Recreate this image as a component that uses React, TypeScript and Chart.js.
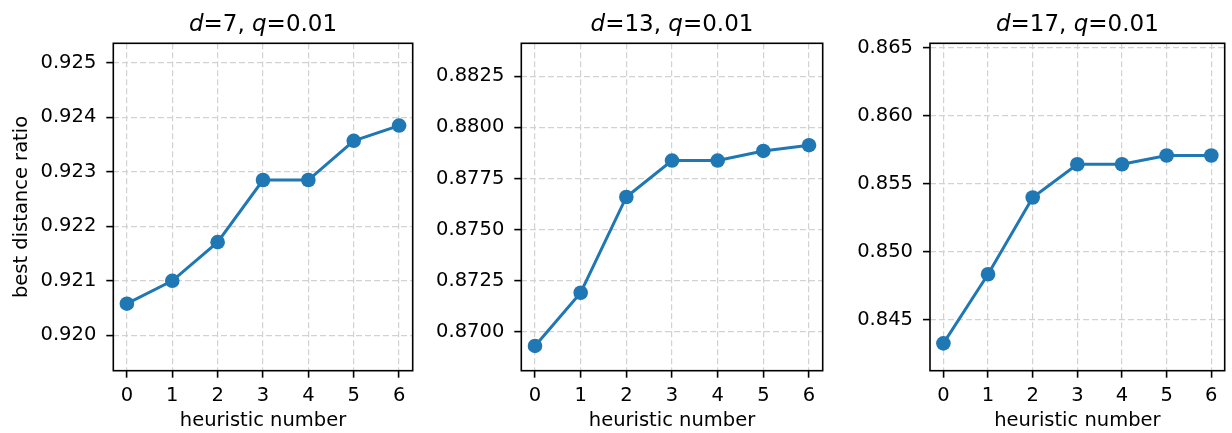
import React, { useEffect, useRef } from "react";
import { Chart, registerables } from "chart.js";

Chart.register(...registerables);

// ---------- data ----------
const heuristicNumbers = [0, 1, 2, 3, 4, 5, 6];
const dimensions = [7, 13, 17];
const qValue = "0.01";

const ratioD7 = [0.92058, 0.921, 0.92171, 0.92285, 0.92285, 0.92357, 0.92385];
const ratioD13 = [0.86932, 0.87192, 0.8766, 0.87838, 0.87838, 0.87885, 0.87913];
const ratioD17 = [0.84329, 0.84836, 0.854, 0.85644, 0.85644, 0.85708, 0.85708];

const yTicksD7 = [0.92, 0.921, 0.922, 0.923, 0.924, 0.925];
const yTicksD13 = [0.87, 0.8725, 0.875, 0.8775, 0.88, 0.8825];
const yTicksD17 = [0.845, 0.85, 0.855, 0.86, 0.865];

const yLabelsD7 = ["0.920", "0.921", "0.922", "0.923", "0.924", "0.925"];
const yLabelsD13 = ["0.8700", "0.8725", "0.8750", "0.8775", "0.8800", "0.8825"];
const yLabelsD17 = ["0.845", "0.850", "0.855", "0.860", "0.865"];

const yLimitsD7 = [0.91935, 0.92536];
const yLimitsD13 = [0.86811, 0.88411];
const yLimitsD17 = [0.84128, 0.86532];

const xTickLabels = ["0", "1", "2", "3", "4", "5", "6"];
const xLimits = [-0.3, 6.3];

const xAxisTitle = "heuristic number";
const yAxisTitle = "best distance ratio";

// ---------- styles ----------
const FONT = "'DejaVu Sans', sans-serif";
const BLUE = "#1f77b4";
const GRID = "#d2d2d2";
const TICK_SIZE = 19.5;

type Panel = {
  left: number;
  width: number;
  yWidth: number;
  padRight: number;
  d: number;
  values: number[];
  yTicks: number[];
  yLabels: string[];
  yLimits: number[];
  showYTitle: boolean;
};

const panels: Panel[] = [
  { left: 0, width: 420, yWidth: 113.3, padRight: 5, d: dimensions[0], values: ratioD7, yTicks: yTicksD7, yLabels: yLabelsD7, yLimits: yLimitsD7, showYTitle: true },
  { left: 420, width: 410, yWidth: 101.3, padRight: 6.7, d: dimensions[1], values: ratioD13, yTicks: yTicksD13, yLabels: yLabelsD13, yLimits: yLimitsD13, showYTitle: false },
  { left: 830, width: 402, yWidth: 100, padRight: 1, d: dimensions[2], values: ratioD17, yTicks: yTicksD17, yLabels: yLabelsD17, yLimits: yLimitsD17, showYTitle: false },
];

const HEIGHT = 433;
const TOP = 43.3;
const X_HEIGHT = 433 - 370.7;

function PanelChart({ p }: { p: Panel }) {
  const ref = useRef<HTMLCanvasElement | null>(null);

  useEffect(() => {
    if (!ref.current) return;
    const titleParts: [string, boolean][] = [
      ["d", true],
      ["=" + p.d + ", ", false],
      ["q", true],
      ["=" + qValue, false],
    ];

    const framePlugin = {
      id: "frame",
      afterDatasetsDraw(chart: any) {
        const { ctx, chartArea } = chart;
        ctx.save();
        ctx.strokeStyle = "#000";
        ctx.lineWidth = 1.6;
        ctx.strokeRect(chartArea.left, chartArea.top, chartArea.right - chartArea.left, chartArea.bottom - chartArea.top);
        ctx.restore();
      },
      afterDraw(chart: any) {
        const { ctx, chartArea } = chart;
        ctx.save();
        const size = 23;
        const fontFor = (it: boolean) => (it ? "italic " : "") + size + "px " + FONT;
        let total = 0;
        for (const [t, it] of titleParts) {
          ctx.font = fontFor(it);
          total += ctx.measureText(t).width;
        }
        let x = (chartArea.left + chartArea.right) / 2 - total / 2;
        ctx.fillStyle = "#000";
        ctx.textBaseline = "alphabetic";
        ctx.textAlign = "left";
        for (const [t, it] of titleParts) {
          ctx.font = fontFor(it);
          ctx.fillText(t, x, 30.7);
          x += ctx.measureText(t).width;
        }
        ctx.restore();
      },
    };

    const chart = new Chart(ref.current, {
      type: "line",
      data: {
        datasets: [
          {
            data: heuristicNumbers.map((h, i) => ({ x: h, y: p.values[i] })),
            borderColor: BLUE,
            backgroundColor: BLUE,
            borderWidth: 3,
            pointRadius: 7.3,
            pointBorderWidth: 0,
            pointBackgroundColor: BLUE,
            tension: 0,
            fill: false,
          },
        ],
      },
      options: {
        animation: false,
        responsive: false,
        maintainAspectRatio: false,
        devicePixelRatio: 1,
        layout: { padding: { left: 0, right: p.padRight, top: TOP, bottom: 0 } },
        plugins: { legend: { display: false }, tooltip: { enabled: false }, title: { display: false } },
        scales: {
          x: {
            type: "linear",
            min: xLimits[0],
            max: xLimits[1],
            afterBuildTicks: (axis: any) => {
              axis.ticks = heuristicNumbers.map((v) => ({ value: v }));
            },
            afterFit: (scale: any) => {
              scale.height = X_HEIGHT;
            },
            ticks: {
              autoSkip: false,
              maxRotation: 0,
              color: "#000",
              font: { family: FONT, size: TICK_SIZE },
              padding: 7,
              callback: (_v: any, i: number) => xTickLabels[i],
            },
            grid: {
              color: GRID,
              lineWidth: 1.2,
              tickLength: 7,
              tickColor: "#000",
              tickWidth: 1.6,
              tickBorderDash: [],
            },
            border: { display: false, dash: [6, 3] },
            title: {
              display: true,
              text: xAxisTitle,
              color: "#000",
              font: { family: FONT, size: TICK_SIZE },
              padding: { top: 0, bottom: 0 },
            },
          },
          y: {
            type: "linear",
            min: p.yLimits[0],
            max: p.yLimits[1],
            afterBuildTicks: (axis: any) => {
              axis.ticks = p.yTicks.map((v) => ({ value: v }));
            },
            afterFit: (scale: any) => {
              scale.width = p.yWidth;
            },
            ticks: {
              autoSkip: false,
              color: "#000",
              font: { family: FONT, size: TICK_SIZE },
              padding: 10,
              callback: (_v: any, i: number) => p.yLabels[i],
            },
            grid: {
              color: GRID,
              lineWidth: 1.2,
              tickLength: 7,
              tickColor: "#000",
              tickWidth: 1.6,
              tickBorderDash: [],
            },
            border: { display: false, dash: [6, 3] },
            title: {
              display: p.showYTitle,
              text: yAxisTitle,
              color: "#000",
              font: { family: FONT, size: TICK_SIZE },
              padding: { top: 10, bottom: 0 },
            },
          },
        },
      },
      plugins: [framePlugin],
    } as any);

    return () => chart.destroy();
  }, [p]);

  return (
    <canvas
      ref={ref}
      width={p.width}
      height={HEIGHT}
      style={{ position: "absolute", left: p.left, top: 0, width: p.width, height: HEIGHT }}
    />
  );
}

export default function App() {
  return (
    <div style={{ position: "absolute", left: 0, top: 0, width: 1232, height: HEIGHT, background: "#fff" }}>
      {panels.map((p, i) => (
        <PanelChart key={i} p={p} />
      ))}
    </div>
  );
}
